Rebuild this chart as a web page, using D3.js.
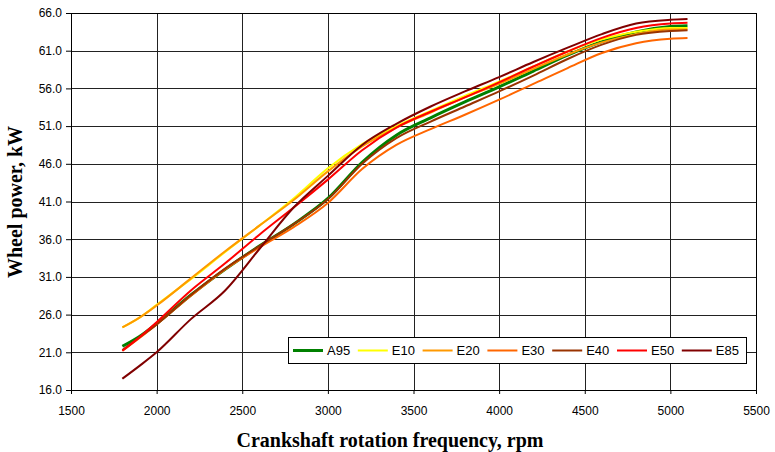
<!DOCTYPE html>
<html>
<head>
<meta charset="utf-8">
<script src="https://cdn.jsdelivr.net/npm/d3@7"></script>
<style>
  body { margin: 0; background: #fff; }
  text { font-family: Arial, "Liberation Sans", sans-serif; }
</style>
</head>
<body>
<div id="chart"></div>
<script>
// rpm sample points shared by all fuel series
const rpm = [1800, 1900, 2000, 2200, 2400, 2600, 2800, 3000, 3200, 3400, 3600, 3800, 4000, 4200, 4400, 4600, 4800, 5000, 5100];

const a95 = [21.8, 23.1, 24.8, 28.6, 32.0, 35.1, 38.0, 41.4, 46.2, 49.8, 52.1, 54.2, 56.2, 58.3, 60.4, 62.2, 63.5, 64.2, 64.3];
const e10 = [24.3, 25.6, 27.3, 30.7, 34.3, 37.8, 41.4, 45.4, 48.6, 51.0, 53.0, 55.0, 56.9, 58.9, 60.9, 62.5, 63.5, 64.0, 64.0];
const e20 = [24.3, 25.6, 27.2, 30.8, 34.4, 37.8, 41.2, 45.0, 48.3, 50.8, 52.8, 54.8, 56.6, 58.6, 60.5, 62.1, 63.2, 63.8, 63.8];
const e30 = [21.2, 22.9, 24.7, 28.5, 32.0, 34.9, 37.6, 40.8, 45.3, 48.5, 50.6, 52.5, 54.5, 56.6, 58.7, 60.7, 62.0, 62.6, 62.7];
const e40 = [21.3, 23.0, 24.7, 28.6, 32.1, 35.1, 38.0, 41.3, 46.0, 49.4, 51.6, 53.6, 55.6, 57.7, 59.9, 61.8, 63.1, 63.6, 63.7];
const e50 = [21.2, 23.0, 25.0, 29.2, 32.8, 36.6, 40.2, 43.9, 47.8, 50.8, 52.9, 54.8, 56.8, 58.9, 60.9, 62.7, 64.0, 64.6, 64.7];
const e85 = [17.5, 19.2, 21.0, 25.4, 29.2, 34.7, 40.2, 44.4, 48.5, 51.3, 53.6, 55.6, 57.5, 59.5, 61.4, 63.2, 64.6, 65.1, 65.2];

const fuelNames = ["A95", "E10", "E20", "E30", "E40", "E50", "E85"];
const fuelColors = ["#008000", "#ffff00", "#ff9900", "#ff6600", "#993300", "#ff0000", "#800000"];
const xTicks = [1500, 2000, 2500, 3000, 3500, 4000, 4500, 5000, 5500];
const yTicks = [16, 21, 26, 31, 36, 41, 46, 51, 56, 61, 66];

const seriesValues = [a95, e10, e20, e30, e40, e50, e85];

document.addEventListener('DOMContentLoaded', function() {
    const margin = { top: 13, right: 19, bottom: 62, left: 71 },
        width = 775 - margin.left - margin.right,
        height = 452 - margin.top - margin.bottom;

    const root = d3.select("#chart")
        .append("svg")
        .attr("width", 775)
        .attr("height", 452);

    const svg = root.append("g")
        .attr("transform", `translate(${margin.left},${margin.top})`);

    const x = d3.scaleLinear().domain([1500, 5500]).range([0, width]);
    const y = d3.scaleLinear().domain([16, 66]).range([height, 0]);

    // gridlines
    svg.append("g")
       .selectAll("line.hg")
       .data(yTicks)
       .enter()
       .append("line")
       .attr("x1", 0).attr("x2", width)
       .attr("y1", d => Math.round(y(d)) + 0.5)
       .attr("y2", d => Math.round(y(d)) + 0.5)
       .attr("stroke", "#222");

    svg.append("g")
       .selectAll("line.vg")
       .data(xTicks)
       .enter()
       .append("line")
       .attr("y1", 0).attr("y2", height)
       .attr("x1", d => Math.round(x(d)) + 0.5)
       .attr("x2", d => Math.round(x(d)) + 0.5)
       .attr("stroke", "#222");

    // axes
    const xAxis = svg.append("g")
       .attr("transform", `translate(0,${height})`)
       .call(d3.axisBottom(x).tickValues(xTicks).tickSize(4).tickPadding(12).tickFormat(d3.format("d")));

    const yAxis = svg.append("g")
       .call(d3.axisLeft(y).tickValues(yTicks).tickSize(5).tickPadding(4).tickFormat(d3.format(".1f")));

    [xAxis, yAxis].forEach(a => {
        a.selectAll("path").attr("stroke", "#000");
        a.selectAll("line").attr("stroke", "#000");
        a.selectAll("text").attr("fill", "#000").style("font-size", "12px")
         .style("font-family", "Arial, 'Liberation Sans', sans-serif");
    });

    // lines
    const line = d3.line()
        .x((d, i) => x(rpm[i]))
        .y(d => y(d))
        .curve(d3.curveMonotoneX);

    svg.selectAll(".fuel")
       .data(seriesValues)
       .enter()
       .append("path")
       .attr("class", "fuel")
       .attr("d", d => line(d))
       .attr("fill", "none")
       .attr("stroke", (d, i) => fuelColors[i])
       .attr("stroke-width", (d, i) => i === 0 ? 3 : 2);

    // frame
    svg.append("rect")
       .attr("x", 0.5).attr("y", 0.5)
       .attr("width", width).attr("height", height)
       .attr("fill", "none")
       .attr("stroke", "#000");

    // legend
    const legend = svg.append("g")
       .attr("transform", `translate(${288 - margin.left},${337 - margin.top})`);

    legend.append("rect")
       .attr("x", 0.5).attr("y", 0.5)
       .attr("width", 458).attr("height", 26)
       .attr("fill", "#fff")
       .attr("stroke", "#000");

    const item = legend.selectAll(".item")
       .data(fuelNames)
       .enter()
       .append("g")
       .attr("transform", (d, i) => `translate(${5 + i * 64.8},13.5)`);

    item.append("line")
       .attr("x1", 0).attr("x2", 30)
       .attr("stroke", (d, i) => fuelColors[i])
       .attr("stroke-width", (d, i) => i === 0 ? 3 : 2);

    item.append("text")
       .attr("x", 34)
       .attr("dy", "0.36em")
       .style("font-size", "13px")
       .text(d => d);

    // axis titles
    root.append("text")
       .attr("x", 390)
       .attr("y", 447)
       .attr("text-anchor", "middle")
       .style("font-family", "'Times New Roman', 'Liberation Serif', serif")
       .style("font-weight", "bold")
       .style("font-size", "20px")
       .text("Crankshaft rotation frequency, rpm");

    root.append("text")
       .attr("transform", "translate(22,202) rotate(-90)")
       .attr("text-anchor", "middle")
       .style("font-family", "'Times New Roman', 'Liberation Serif', serif")
       .style("font-weight", "bold")
       .style("font-size", "20px")
       .text("Wheel power, kW");
});
</script>
</body>
</html>
